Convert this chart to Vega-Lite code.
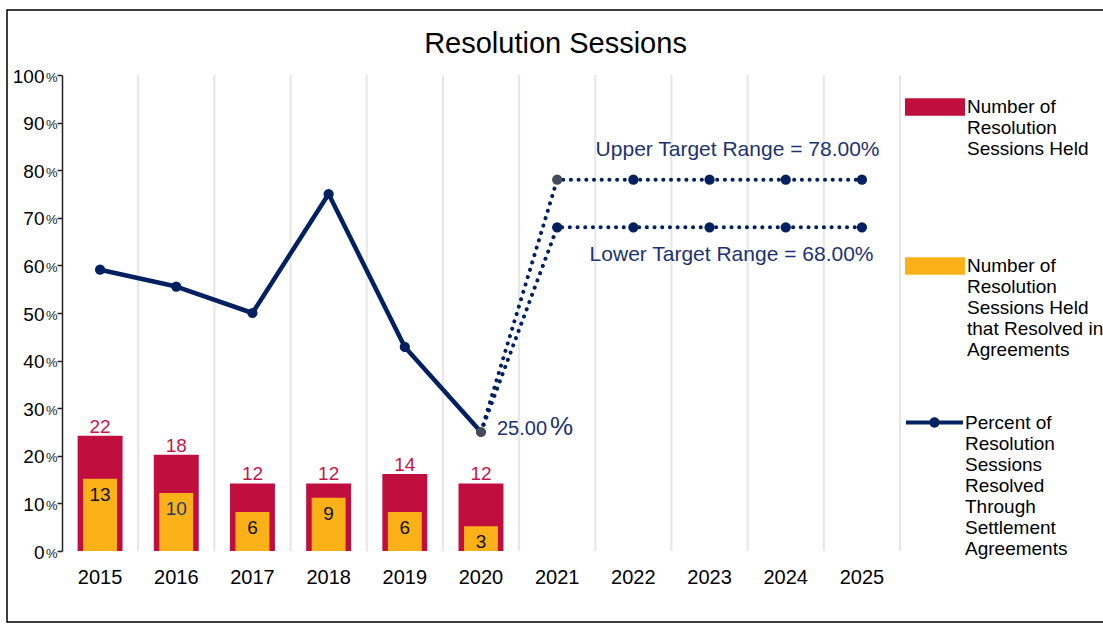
{
  "$schema": "https://vega.github.io/schema/vega-lite/v6.json",
  "width": 1097,
  "height": 612,
  "autosize": {"type": "none"},
  "padding": {"left": 7, "top": 10, "right": -1, "bottom": 2},
  "background": "white",
  "config": {
    "font": "Liberation Sans",
    "view": {"stroke": "#000000", "strokeWidth": 1.5}
  },
  "title": {
    "text": "Resolution Sessions",
    "fontSize": 29,
    "fontWeight": "normal",
    "color": "#000000",
    "anchor": "middle",
    "offset": -49
  },
  "datasets": {
    "years": [
      {"year": 2015}, {"year": 2016}, {"year": 2017}, {"year": 2018}, {"year": 2019}, {"year": 2020},
      {"year": 2021}, {"year": 2022}, {"year": 2023}, {"year": 2024}, {"year": 2025}
    ],
    "sessions": [
      {"year": 2015, "held": 22, "resolved": 13},
      {"year": 2016, "held": 18, "resolved": 10},
      {"year": 2017, "held": 12, "resolved": 6},
      {"year": 2018, "held": 12, "resolved": 9},
      {"year": 2019, "held": 14, "resolved": 6},
      {"year": 2020, "held": 12, "resolved": 3}
    ],
    "percent": [
      {"year": 2015, "pct": 59.09},
      {"year": 2016, "pct": 55.56},
      {"year": 2017, "pct": 50},
      {"year": 2018, "pct": 75},
      {"year": 2019, "pct": 42.86},
      {"year": 2020, "pct": 25}
    ],
    "targets": [
      {"year": 2020, "series": "Upper", "value": 25},
      {"year": 2021, "series": "Upper", "value": 78},
      {"year": 2022, "series": "Upper", "value": 78},
      {"year": 2023, "series": "Upper", "value": 78},
      {"year": 2024, "series": "Upper", "value": 78},
      {"year": 2025, "series": "Upper", "value": 78},
      {"year": 2020, "series": "Lower", "value": 25},
      {"year": 2021, "series": "Lower", "value": 68},
      {"year": 2022, "series": "Lower", "value": 68},
      {"year": 2023, "series": "Lower", "value": 68},
      {"year": 2024, "series": "Lower", "value": 68},
      {"year": 2025, "series": "Lower", "value": 68}
    ]
  },
  "encoding": {
    "x": {
      "field": "year",
      "type": "ordinal",
      "scale": {
        "type": "band",
        "domain": [2015, 2016, 2017, 2018, 2019, 2020, 2021, 2022, 2023, 2024, 2025],
        "range": [55, 893],
        "paddingInner": 0,
        "paddingOuter": 0
      },
      "axis": {
        "orient": "bottom",
        "offset": -71,
        "title": null,
        "domain": false,
        "ticks": false,
        "tickSize": 0,
        "grid": false,
        "labelAngle": 0,
        "labelPadding": 16,
        "labelFontSize": 20,
        "labelColor": "#000000"
      }
    }
  },
  "resolve": {"scale": {"y": "independent"}},
  "layer": [
    {
      "data": {"name": "years"},
      "encoding": {
        "y": {
          "datum": 0,
          "type": "quantitative",
          "scale": {"domain": [0, 100], "range": [541, 65], "nice": false, "zero": false},
          "axis": {
            "orient": "left",
            "offset": -55,
            "title": null,
            "domain": false,
            "ticks": false,
            "tickSize": 0,
            "grid": false,
            "values": [0, 10, 20, 30, 40, 50, 60, 70, 80, 90, 100],
            "format": "d",
            "labelFlush": false,
            "labelPadding": 18,
            "labelFontSize": 19,
            "labelColor": "#000000",
            "labelBaseline": "middle",
            "labelOffset": 1
          }
        },
        "y2": {"datum": 100}
      },
      "layer": [
        {
          "transform": [{"filter": "datum.year > 2015"}],
          "mark": {"type": "rule", "color": "#e6e6e6", "strokeWidth": 2},
          "encoding": {"x": {"field": "year", "type": "ordinal", "bandPosition": 0}}
        },
        {
          "transform": [{"filter": "datum.year == 2025"}],
          "mark": {"type": "rule", "color": "#e6e6e6", "strokeWidth": 2},
          "encoding": {"x": {"field": "year", "type": "ordinal", "bandPosition": 1}}
        }
      ]
    },
    {
      "data": {"name": "sessions"},
      "layer": [
        {
          "mark": {"type": "bar", "width": {"band": 0.59}},
          "encoding": {
            "y": {
              "field": "held",
              "type": "quantitative",
              "scale": {"domain": [-2.2, 97.8], "range": [541, 65], "nice": false, "zero": false},
              "axis": null
            },
            "y2": {"datum": -2.2},
            "fill": {
              "datum": "Number of Resolution Sessions Held",
              "type": "nominal",
              "scale": {
                "domain": ["Number of Resolution Sessions Held", "Number of Resolution Sessions Held that Resolved in Agreements"],
                "range": ["#c00e3f", "#fdb118"]
              },
              "legend": {
                "orient": "none",
                "legendX": 898,
                "legendY": 67,
                "title": null,
                "padding": 0,
                "symbolType": "M-1,-0.29H1V0.29H-1Z",
                "symbolSize": 3600,
                "symbolStrokeWidth": 0,
                "symbolOpacity": 1,
                "labelFontSize": 19,
                "labelColor": "#000000",
                "labelLimit": 400,
                "labelOffset": 2,
                "labelBaseline": "middle",
                "rowPadding": 77,
                "labelExpr": "datum.label == 'Number of Resolution Sessions Held' ? ['Number of', 'Resolution', 'Sessions Held'] : ['Number of', 'Resolution', 'Sessions Held', 'that Resolved in', 'Agreements']"
              }
            }
          }
        },
        {
          "mark": {"type": "bar", "width": {"band": 0.445}},
          "encoding": {
            "y": {"field": "resolved", "type": "quantitative", "axis": null},
            "y2": {"datum": -2.2},
            "fill": {"datum": "Number of Resolution Sessions Held that Resolved in Agreements", "type": "nominal"}
          }
        },
        {
          "mark": {"type": "text", "baseline": "alphabetic", "dy": -3, "fontSize": 19, "color": "#c5154a"},
          "encoding": {
            "y": {"field": "held", "type": "quantitative", "axis": null},
            "text": {"field": "held", "type": "quantitative"}
          }
        },
        {
          "mark": {"type": "text", "baseline": "alphabetic", "dy": 22, "fontSize": 19},
          "encoding": {
            "y": {"field": "resolved", "type": "quantitative", "axis": null},
            "text": {"field": "resolved", "type": "quantitative"},
            "color": {"condition": {"test": "datum.year == 2016", "value": "#1f3a6e"}, "value": "#111111"}
          }
        }
      ]
    },
    {
      "layer": [
        {
          "data": {"name": "targets"},
          "mark": {"type": "line", "strokeDash": [0.1, 7.6], "strokeCap": "round", "strokeWidth": 4, "color": "#002060"},
          "encoding": {
            "y": {"field": "value", "type": "quantitative"},
            "detail": {"field": "series", "type": "nominal"}
          }
        },
        {
          "data": {"name": "targets"},
          "transform": [{"filter": "datum.year >= 2021"}],
          "mark": {"type": "point", "filled": true, "size": 105, "opacity": 1},
          "encoding": {
            "y": {"field": "value", "type": "quantitative"},
            "color": {"condition": {"test": "datum.year == 2021 && datum.series == 'Upper'", "value": "#454b59"}, "value": "#002060"}
          }
        },
        {
          "data": {"name": "percent"},
          "mark": {"type": "line", "strokeWidth": 4.5, "strokeJoin": "round"},
          "encoding": {
            "y": {
              "field": "pct",
              "type": "quantitative",
              "scale": {"domain": [0, 100], "range": [541, 65], "nice": false, "zero": false},
              "axis": {
                "orient": "left",
                "offset": -55,
                "title": null,
                "domain": true,
                "domainColor": "#222222",
                "domainWidth": 1.5,
                "ticks": true,
                "tickSize": 5,
                "tickColor": "#222222",
                "tickWidth": 1.5,
                "grid": false,
                "values": [0, 10, 20, 30, 40, 50, 60, 70, 80, 90, 100],
                "labelExpr": "'%'",
                "labelFlush": false,
                "labelPadding": 0,
                "labelFontSize": 13,
                "labelColor": "#222222",
                "labelBaseline": "middle",
                "labelOffset": 2
              }
            },
            "stroke": {
              "datum": "Percent of Resolution Sessions Resolved Through Settlement Agreements",
              "type": "nominal",
              "scale": {"range": ["#002060"]},
              "legend": {
                "orient": "none",
                "legendX": 899,
                "legendY": 384,
                "title": null,
                "padding": 0,
                "symbolType": "M-1,-0.07H1V0.07H-1Z M0.18,0A0.18,0.18,0,1,1,-0.18,0A0.18,0.18,0,1,1,0.18,0Z",
                "symbolSize": 3249,
                "symbolStrokeWidth": 0,
                "symbolFillColor": "#002060",
                "symbolOpacity": 1,
                "labelFontSize": 19,
                "labelColor": "#000000",
                "labelLimit": 400,
                "labelOffset": 2,
                "labelBaseline": "middle",
                "labelExpr": "['Percent of', 'Resolution', 'Sessions', 'Resolved', 'Through', 'Settlement', 'Agreements']"
              }
            }
          }
        },
        {
          "data": {"name": "percent"},
          "mark": {"type": "point", "filled": true, "size": 105, "opacity": 1},
          "encoding": {
            "y": {"field": "pct", "type": "quantitative"},
            "color": {"condition": {"test": "datum.year == 2020", "value": "#454b59"}, "value": "#002060"}
          }
        },
        {
          "data": {"values": [{"label": "Upper Target Range = 78.00%"}]},
          "mark": {"type": "text", "align": "center", "baseline": "middle", "dx": 28, "dy": -30, "fontSize": 21, "color": "#1c3370"},
          "encoding": {
            "x": {"datum": 2023, "type": "ordinal"},
            "y": {"datum": 78, "type": "quantitative"},
            "text": {"field": "label", "type": "nominal"}
          }
        },
        {
          "data": {"values": [{"label": "Lower Target Range = 68.00%"}]},
          "mark": {"type": "text", "align": "center", "baseline": "middle", "dx": 22, "dy": 28, "fontSize": 21, "color": "#1c3370"},
          "encoding": {
            "x": {"datum": 2023, "type": "ordinal"},
            "y": {"datum": 68, "type": "quantitative"},
            "text": {"field": "label", "type": "nominal"}
          }
        },
        {
          "data": {"values": [{"label": "25.00"}]},
          "mark": {"type": "text", "align": "left", "baseline": "alphabetic", "dx": 16, "dy": 3, "fontSize": 20, "color": "#1c3370"},
          "encoding": {
            "x": {"datum": 2020, "type": "ordinal"},
            "y": {"datum": 25, "type": "quantitative"},
            "text": {"field": "label", "type": "nominal"}
          }
        },
        {
          "data": {"values": [{"label": "%"}]},
          "mark": {"type": "text", "align": "left", "baseline": "alphabetic", "dx": 69, "dy": 3, "fontSize": 26, "color": "#1c3370"},
          "encoding": {
            "x": {"datum": 2020, "type": "ordinal"},
            "y": {"datum": 25, "type": "quantitative"},
            "text": {"field": "label", "type": "nominal"}
          }
        }
      ]
    }
  ]
}
